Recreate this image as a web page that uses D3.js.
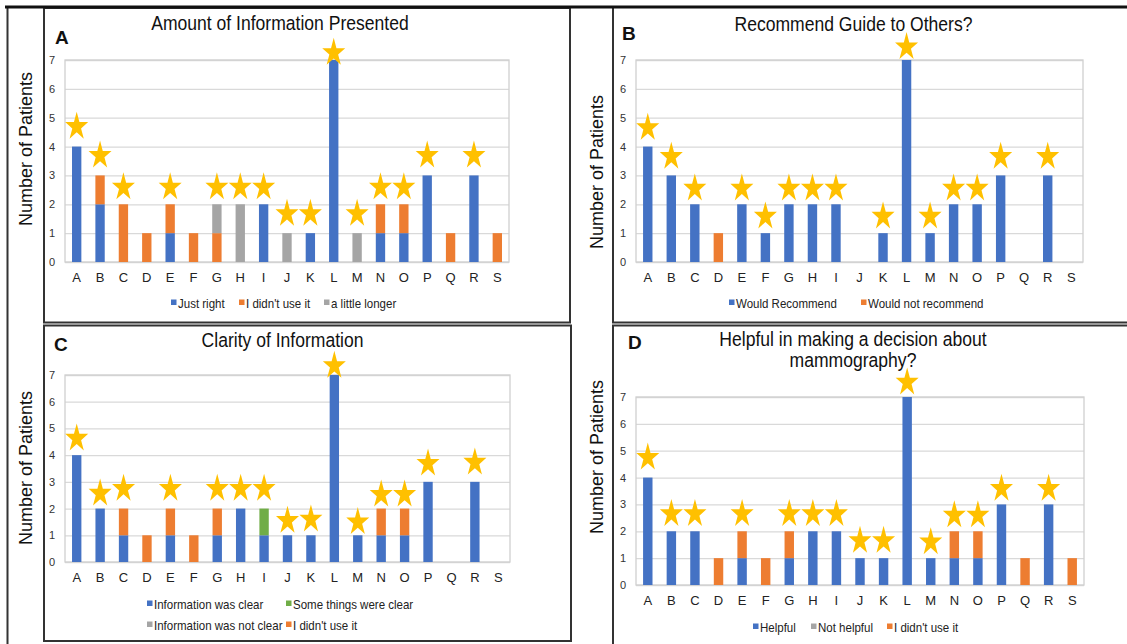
<!DOCTYPE html>
<html><head><meta charset="utf-8">
<script src="https://cdn.jsdelivr.net/npm/d3@7"></script>
<style>body{margin:0;background:#fff} svg{display:block} text{font-family:"Liberation Sans",Arial,sans-serif}</style>
</head><body><svg id="c" width="1127" height="644"></svg>
<script>
const categories = ["A","B","C","D","E","F","G","H","I","J","K","L","M","N","O","P","Q","R","S"];
const yTicks = [0,1,2,3,4,5,6,7];

// Panel A: Amount of Information Presented
const amountJustRight    = [4,2,0,0,1,0,0,0,2,0,1,7,0,1,1,3,0,3,0];
const amountDidntUse     = [0,1,2,1,1,1,1,0,0,0,0,0,0,1,1,0,1,0,1];
const amountLittleLonger = [0,0,0,0,0,0,1,2,0,1,0,0,1,0,0,0,0,0,0];
const amountStars = [4.74,3.74,2.64,null,2.64,null,2.64,2.64,2.64,1.72,1.72,7.3,1.72,2.64,2.64,3.74,null,3.74,null];

// Panel B: Recommend Guide to Others?
const recommendYes = [4,3,2,0,2,1,2,2,2,0,1,7,1,2,2,3,0,3,0];
const recommendNo  = [0,0,0,1,0,0,0,0,0,0,0,0,0,0,0,0,0,0,0];
const recommendStars = [4.7,3.7,2.6,null,2.6,1.63,2.6,2.6,2.6,null,1.63,7.5,1.63,2.6,2.6,3.7,null,3.7,null];

// Panel C: Clarity of Information
const clarityClear    = [4,2,1,0,1,0,1,2,1,1,1,7,1,1,1,3,0,3,0];
const claritySome     = [0,0,0,0,0,0,0,0,1,0,0,0,0,0,0,0,0,0,0];
const clarityNotClear = [0,0,0,0,0,0,0,0,0,0,0,0,0,0,0,0,0,0,0];
const clarityDidntUse = [0,0,1,1,1,1,1,0,0,0,0,0,0,1,1,0,0,0,0];
const clarityStars = [4.68,2.62,2.8,null,2.8,null,2.8,2.8,2.8,1.6,1.65,7.4,1.55,2.58,2.58,3.74,null,3.78,null];

// Panel D: Helpful in making a decision about mammography?
const helpfulYes      = [4,2,2,0,1,0,1,2,2,1,1,7,1,1,1,3,0,3,0];
const helpfulNo       = [0,0,0,0,0,0,0,0,0,0,0,0,0,0,0,0,0,0,0];
const helpfulDidntUse = [0,0,0,1,1,1,1,0,0,0,0,0,0,1,1,0,1,0,1];
const helpfulStars = [4.8,2.7,2.7,null,2.7,null,2.7,2.7,2.7,1.7,1.7,7.6,1.65,2.65,2.65,3.64,null,3.64,null];

const BLUE="#4472C4", ORANGE="#ED7D31", GRAY="#A5A5A5", GREEN="#70AD47", GOLD="#FFC000";
const SX = 0.9;

const svg = d3.select("#c");

function txt(sel, x, y, s, opts){
  opts = opts||{};
  return sel.append("text")
    .attr("transform", `translate(${x},${y}) scale(${opts.sx==null?SX:opts.sx},1)`)
    .attr("text-anchor", opts.anchor||"start")
    .attr("font-size", opts.size||13)
    .attr("font-weight", opts.weight||"normal")
    .attr("fill", opts.fill||"#111")
    .text(s);
}

function starPath(w,h){
  const R=10, r=R*0.382;
  const pts=[];
  for(let k=0;k<10;k++){
    const a=-Math.PI/2 + k*Math.PI/5;
    const rr = k%2===0?R:r;
    pts.push([rr*Math.cos(a), rr*Math.sin(a)]);
  }
  const sx = w/(2*R*Math.sin(2*Math.PI/5)), sy = h/(R*(1+Math.cos(Math.PI/5)));
  const off = (R - R*Math.cos(Math.PI/5))/2; // bbox centre offset above path centre
  return d3.line()(pts.map(p=>[p[0]*sx, (p[1]+off)*sy])) + "Z";
}

function drawPanel(p){
  const g = svg.append("g");
  const x = d3.scaleBand().domain(categories).range([p.left,p.right]).paddingInner(0.6).paddingOuter(0.3);
  const y = d3.scaleLinear().domain([0,7]).range([p.bottom,p.top]);

  const yg = g.append("g").attr("transform",`translate(${p.left},0)`)
    .call(d3.axisLeft(y).tickValues(yTicks).tickSize(-(p.right-p.left)).tickPadding(10).tickFormat(d3.format("d")));
  yg.select(".domain").remove();
  yg.selectAll(".tick line").attr("stroke","#d9d9d9").attr("stroke-width",1.3);
  yg.selectAll(".tick text").attr("font-size",11).attr("fill","#333").attr("font-family","Liberation Sans, Arial, sans-serif");

  g.append("rect").attr("x",p.left).attr("y",p.top).attr("width",p.right-p.left).attr("height",p.bottom-p.top)
    .attr("fill","none").attr("stroke","#d0d0d0").attr("stroke-width",1.3);

  const xg = g.append("g").attr("transform",`translate(0,${p.bottom})`)
    .call(d3.axisBottom(x).tickSize(0).tickPadding(11));
  xg.select(".domain").remove();
  xg.selectAll(".tick text").attr("font-size",13).attr("fill","#222").attr("font-family","Liberation Sans, Arial, sans-serif");

  const rows = categories.map((c,i)=>{const o={cat:c}; p.series.forEach(s=>o[s.name]=s.values[i]); return o;});
  const stacked = d3.stack().keys(p.series.map(s=>s.name))(rows);
  stacked.forEach((layer,k)=>{
    g.append("g").attr("fill",p.series[k].color).selectAll("rect")
      .data(layer.filter(d=>d[1]>d[0])).join("rect")
      .attr("x",d=>x(d.data.cat)).attr("width",x.bandwidth())
      .attr("y",d=>y(d[1])).attr("height",d=>y(d[0])-y(d[1]));
  });

  const sp = starPath(23,27);
  g.append("g").selectAll("path").data(categories.map((c,i)=>({c,v:p.stars[i]})).filter(d=>d.v!=null))
    .join("path").attr("d",sp).attr("fill",GOLD)
    .attr("transform",d=>`translate(${x(d.c)+x.bandwidth()/2},${y(d.v)})`);

  // titles
  p.title.forEach((t,i)=>txt(g,(p.left+p.right)/2 + (p.titleDx||0), p.titleY + i*21, t, {anchor:"middle", size:19.5, fill:"#111"}));
  txt(g, p.letterX, p.letterY, p.letter, {size:19, weight:"bold", fill:"#111", sx:1});
  g.append("text").attr("transform",`translate(${p.ylabX},${p.ylabY}) rotate(-90)`)
    .attr("text-anchor","middle").attr("font-size",18).attr("fill","#111").text("Number of Patients");

  // legend
  p.legend.forEach(L=>{
    g.append("rect").attr("x",L.x).attr("y",L.y-8.5).attr("width",5.5).attr("height",5.5).attr("fill",L.color);
    txt(g, L.x+7, L.y, L.label, {size:12.8, fill:"#222"});
  });
}

drawPanel({left:65,right:509,top:60,bottom:262, title:["Amount of Information Presented"], titleY:30, titleDx:-7,
  letter:"A", letterX:55, letterY:44, ylabX:32, ylabY:149, stars:amountStars,
  series:[{name:"Just right",values:amountJustRight,color:BLUE},{name:"I didn't use it",values:amountDidntUse,color:ORANGE},{name:"a little longer",values:amountLittleLonger,color:GRAY}],
  legend:[{x:171,y:308,color:BLUE,label:"Just right"},{x:239,y:308,color:ORANGE,label:"I didn't use it"},{x:324,y:308,color:GRAY,label:"a little longer"}]});

drawPanel({left:636,right:1083,top:60,bottom:262, title:["Recommend Guide to Others?"], titleY:31, titleDx:-6,
  letter:"B", letterX:622, letterY:40, ylabX:603, ylabY:172, stars:recommendStars,
  series:[{name:"Would Recommend",values:recommendYes,color:BLUE},{name:"Would not recommend",values:recommendNo,color:ORANGE}],
  legend:[{x:729,y:308,color:BLUE,label:"Would Recommend"},{x:861,y:308,color:ORANGE,label:"Would not recommend"}]});

drawPanel({left:65,right:510,top:375,bottom:562, title:["Clarity of Information"], titleY:347, titleDx:-5,
  letter:"C", letterX:54, letterY:351, ylabX:32, ylabY:468, stars:clarityStars,
  series:[{name:"Information was clear",values:clarityClear,color:BLUE},{name:"Some things were clear",values:claritySome,color:GREEN},{name:"Information was not clear",values:clarityNotClear,color:GRAY},{name:"I didn't use it",values:clarityDidntUse,color:ORANGE}],
  legend:[{x:147,y:609,color:BLUE,label:"Information was clear"},{x:286,y:609,color:GREEN,label:"Some things were clear"},{x:147,y:630,color:GRAY,label:"Information was not clear"},{x:286,y:630,color:ORANGE,label:"I didn't use it"}]});

drawPanel({left:636,right:1084,top:397,bottom:585, title:["Helpful in making a decision about","mammography?"], titleY:346, titleDx:-7,
  letter:"D", letterX:628, letterY:349, ylabX:603, ylabY:457, stars:helpfulStars,
  series:[{name:"Helpful",values:helpfulYes,color:BLUE},{name:"Not helpful",values:helpfulNo,color:GRAY},{name:"I didn't use it",values:helpfulDidntUse,color:ORANGE}],
  legend:[{x:753,y:632,color:BLUE,label:"Helpful"},{x:811,y:632,color:GRAY,label:"Not helpful"},{x:887,y:632,color:ORANGE,label:"I didn't use it"}]});

// frame lines
const fr = svg.append("g").attr("fill","none").attr("stroke","#333").attr("stroke-width",2);
fr.append("line").attr("x1",7.5).attr("x2",7.5).attr("y1",7).attr("y2",644);
fr.append("rect").attr("x",44).attr("y",8).attr("width",526).attr("height",314.5);
fr.append("rect").attr("x",44).attr("y",325.5).attr("width",527).attr("height",315.5);
fr.append("path").attr("d","M613,8V322.5H1128");
fr.append("path").attr("d","M1128,325.5H613V645");
svg.append("line").attr("x1",5).attr("x2",1127).attr("y1",7).attr("y2",7).attr("stroke","#111").attr("stroke-width",3);
</script></body></html>
